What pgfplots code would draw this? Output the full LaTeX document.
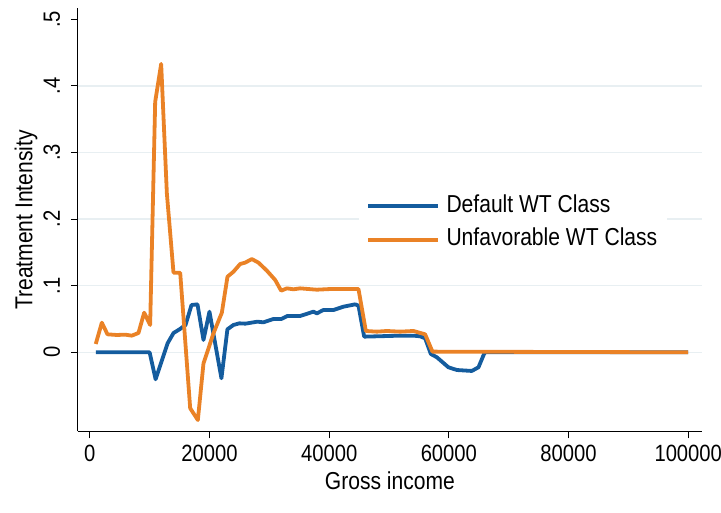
\documentclass[border=0pt]{standalone}
\usepackage{fontspec}
\setmainfont{Liberation Sans}[FakeStretch=0.86]
\usepackage{pgfplots}
\pgfplotsset{compat=1.18}
\definecolor{sblue}{RGB}{20,92,158}
\definecolor{sorange}{RGB}{234,130,38}
\definecolor{gridc}{RGB}{232,239,242}
\newcommand\lbl{\fontsize{24.5}{29}\selectfont}
\newcommand\tck{\fontsize{23.5}{28}\selectfont}
\begin{document}
\begin{tikzpicture}
\begin{axis}[
  at={(0,0)}, anchor=south west,
  scale only axis, width=624.2pt, height=423.2pt,
  xmin=-2000, xmax=102300, ymin=-0.1189, ymax=0.5165,
  axis lines*=left,
  axis line style={black, line width=1pt},
  scaled x ticks=false, scaled y ticks=false,
  xtick={0,20000,40000,60000,80000,100000},
  xticklabels={0,20000,40000,60000,80000,100000},
  ytick={0,0.1,0.2,0.3,0.4,0.5},
  yticklabels={0,.1,.2,.3,.4,.5},
  extra y ticks={0,0.1,0.2,0.3,0.4},
  extra y tick labels={},
  extra y tick style={grid=major, major tick length=0pt, major grid style={gridc, line width=1.3pt}},
  tick align=outside, major tick length=7pt,
  tick style={black, line width=1pt},
  tick label style={font=\tck},
  xticklabel style={anchor=north, inner sep=0pt, yshift=-6.5pt},
  yticklabel style={xshift=-10.8pt, rotate=90, anchor=base, inner sep=0pt},
  label style={font=\lbl},
  xlabel={Gross income},
  ylabel={Treatment Intensity},
  xlabel style={at={(axis description cs:0.5,-0.1366)}, anchor=base, inner sep=0pt},
  ylabel style={at={(axis description cs:-0.0729,0.5)}, anchor=base, inner sep=0pt},
  legend style={at={(0.4497,0.4928)}, anchor=west, draw=none, fill=white,
    inner xsep=7.5pt, inner ysep=3pt, font=\lbl, row sep=7.6pt,
    nodes={inner sep=2pt, text height=17pt, text depth=5pt},
    /tikz/every odd column/.append style={column sep=4.5pt}},
  legend cell align=left,
  legend image code/.code={\draw[#1] (0pt,0pt) -- (70pt,0pt);},
  every axis plot/.append style={line width=3.8pt, line join=round},
]
\addplot[sblue] coordinates {
(1000,0) (10000,0) (11000,-0.0405) (13000,0.0135) (14000,0.029) (15000,0.0345)
(16000,0.041) (17000,0.071) (18000,0.072) (19000,0.0185) (20000,0.061)
(22000,-0.039) (23000,0.0345) (24000,0.041) (25000,0.0435) (26000,0.043)
(28000,0.046) (29000,0.045) (30700,0.050) (32000,0.050) (33000,0.0545)
(35150,0.0545) (37380,0.061) (37940,0.0585) (39050,0.0635) (40720,0.0635)
(42390,0.0685) (44340,0.072) (44900,0.070) (45850,0.0235) (47970,0.024)
(51860,0.025) (54090,0.025) (55200,0.024) (56040,0.021) (56990,-0.0025)
(58000,-0.0075) (59930,-0.0225) (61340,-0.0266) (63840,-0.028) (64950,-0.0225)
(65950,-0.001) (66200,0) (100000,0)
};
\addlegendentry{Default WT Class}
\addplot[sorange] coordinates {
(1000,0.0125) (2020,0.0445) (2960,0.027) (4530,0.026) (5910,0.0265) (7030,0.025)
(8140,0.029) (9090,0.0595) (10090,0.041) (10930,0.376) (11930,0.433)
(12880,0.239) (13990,0.1195) (15110,0.1195) (16780,-0.084) (18060,-0.1017)
(19000,-0.0166) (20670,0.0285) (22070,0.0595) (23010,0.1135) (24010,0.121)
(25130,0.1326) (25960,0.1346) (27080,0.140) (28190,0.1346) (29590,0.1226)
(30980,0.1086) (31980,0.0925) (32930,0.096) (34040,0.0946) (35150,0.096)
(37940,0.094) (40170,0.095) (41840,0.095) (44900,0.095) (46130,0.032)
(47970,0.031) (49640,0.032) (51860,0.031) (54090,0.032) (56040,0.027)
(57260,0.001) (100000,0)
};
\addlegendentry{Unfavorable WT Class}
\end{axis}
\pgfresetboundingbox
\useasboundingbox (-77.8pt,-81.5pt) rectangle (643.2pt,431.5pt);
\end{tikzpicture}
\end{document}
